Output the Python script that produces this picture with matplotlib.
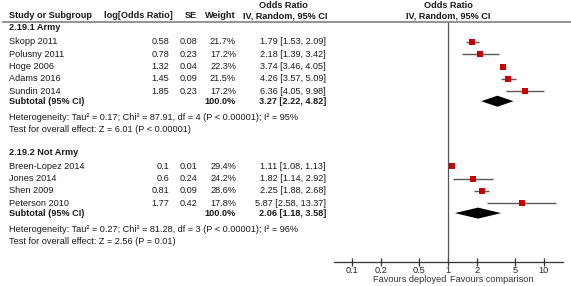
"""
Forest plot: odds ratios by army / not army subgroups.
"""

import matplotlib
matplotlib.use("Agg")
import matplotlib.pyplot as plt
import numpy as np

plt.rcParams["font.family"] = ["Liberation Sans", "DejaVu Sans"]

# data
army_names = ["Skopp 2011", "Polusny 2011", "Hoge 2006", "Adams 2016", "Sundin 2014"]
army_log_or = [0.58, 0.78, 1.32, 1.45, 1.85]
army_se = [0.08, 0.23, 0.04, 0.09, 0.23]
army_weight = [21.7, 17.2, 22.3, 21.5, 17.2]
army_or = [1.79, 2.18, 3.74, 4.26, 6.36]
army_lo = [1.53, 1.39, 3.46, 3.57, 4.05]
army_hi = [2.09, 3.42, 4.05, 5.09, 9.98]
army_total = [3.27, 2.22, 4.82]
army_het = "Heterogeneity: Tau² = 0.17; Chi² = 87.91, df = 4 (P < 0.00001); I² = 95%"
army_test = "Test for overall effect: Z = 6.01 (P < 0.00001)"

other_names = ["Breen-Lopez 2014", "Jones 2014", "Shen 2009", "Peterson 2010"]
other_log_or = [0.1, 0.6, 0.81, 1.77]
other_se = [0.01, 0.24, 0.09, 0.42]
other_weight = [29.4, 24.2, 28.6, 17.8]
other_or = [1.11, 1.82, 2.25, 5.87]
other_lo = [1.08, 1.14, 1.88, 2.58]
other_hi = [1.13, 2.92, 2.68, 13.37]
other_total = [2.06, 1.18, 3.58]
other_het = "Heterogeneity: Tau² = 0.27; Chi² = 81.28, df = 3 (P < 0.00001); I² = 96%"
other_test = "Test for overall effect: Z = 2.56 (P = 0.01)"

ticks = [0.1, 0.2, 0.5, 1, 2, 5, 10]

groups = [
    ("2.19.1 Army", army_names, army_log_or, army_se, army_weight, army_or, army_lo, army_hi,
     army_total, army_het, army_test),
    ("2.19.2 Not Army", other_names, other_log_or, other_se, other_weight, other_or, other_lo,
     other_hi, other_total, other_het, other_test),
]

W, H = 571, 286
fig = plt.figure(figsize=(W / 100, H / 100), dpi=100)
tax = fig.add_axes([0, 0, 1, 1])
tax.set_xlim(0, W)
tax.set_ylim(H, 0)
tax.axis("off")

axis_y = 262
fax = fig.add_axes([334 / W, (H - axis_y) / H, 229 / W, axis_y / H])
fax.set_xscale("log")
fax.set_xlim(0.065, 15.8)
fax.set_ylim(axis_y, 0)
fax.patch.set_alpha(0)
for s in ["top", "left", "right"]:
    fax.spines[s].set_visible(False)
fax.spines["bottom"].set_color("#333333")
fax.spines["bottom"].set_linewidth(0.9)
fax.set_yticks([])
fax.set_xticks(ticks)
fax.set_xticklabels([f"{t:g}" for t in ticks])
fax.xaxis.set_minor_locator(matplotlib.ticker.NullLocator())
fax.tick_params(axis="x", direction="inout", length=6, width=0.9, color="#333333",
                labelsize=6.6, pad=0, labelcolor="#222222")

fs = 6.6
tc = "#1a1a1a"
hdr_y = 22

# header
tax.text(9, 16, "Study or Subgroup", fontsize=fs, weight="bold", va="center", color=tc)
tax.text(104, 16, "log[Odds Ratio]", fontsize=fs, weight="bold", va="center", color=tc)
tax.text(197, 16, "SE", fontsize=fs, weight="bold", va="center", ha="right", color=tc)
tax.text(236, 16, "Weight", fontsize=fs, weight="bold", va="center", ha="right", color=tc)
tax.text(283, 5, "Odds Ratio", fontsize=fs, weight="bold", va="center", ha="center", color=tc)
tax.text(285, 16, "IV, Random, 95% CI", fontsize=fs, weight="bold", va="center", ha="center", color=tc)
tax.text(448, 5, "Odds Ratio", fontsize=fs, weight="bold", va="center", ha="center", color=tc)
tax.text(448, 16, "IV, Random, 95% CI", fontsize=fs, weight="bold", va="center", ha="center", color=tc)
tax.plot([3, W], [hdr_y, hdr_y], color="#808080", lw=1.2)

fax.vlines(1, hdr_y, axis_y, color="#555555", lw=0.9)

y = 28
for (title, names, lor, se, wt, est, lo, hi, tot, het, test) in groups:
    tax.text(9, y, title, fontsize=fs, weight="bold", va="center", color=tc)
    y += 14
    for i in range(len(names)):
        tax.text(9, y, names[i], fontsize=fs, va="center", color=tc)
        tax.text(169, y, f"{lor[i]:g}", fontsize=fs, va="center", ha="right", color=tc)
        tax.text(197, y, f"{se[i]:.2f}", fontsize=fs, va="center", ha="right", color=tc)
        tax.text(236, y, f"{wt[i]:.1f}%", fontsize=fs, va="center", ha="right", color=tc)
        tax.text(326, y, f"{est[i]:.2f} [{lo[i]:.2f}, {hi[i]:.2f}]", fontsize=fs,
                 va="center", ha="right", color=tc)
        fax.hlines(y, lo[i], hi[i], color="#5a5a5a", lw=1.0)
        # square side grows with sqrt(weight), like RevMan
        fax.plot(est[i], y, marker="s", color="#c80000", ms=np.sqrt(wt[i]) * 0.88,
                 mew=0, snap=False)
        y += 12.3
    y -= 2.3
    tax.text(9, y, "Subtotal (95% CI)", fontsize=fs, weight="bold", va="center", color=tc)
    tax.text(236, y, "100.0%", fontsize=fs, weight="bold", va="center", ha="right", color=tc)
    tax.text(326, y, f"{tot[0]:.2f} [{tot[1]:.2f}, {tot[2]:.2f}]", fontsize=fs,
             weight="bold", va="center", ha="right", color=tc)
    fax.fill([tot[1], tot[0], tot[2], tot[0]], [y, y - 5.5, y, y + 5.5], color="black", lw=0)
    y += 16
    tax.text(9, y, het, fontsize=fs, va="center", color=tc)
    y += 12
    tax.text(9, y, test, fontsize=fs, va="center", color=tc)
    y += 23

fax.text(0.955, 280, "Favours deployed", fontsize=fs, va="center", ha="right", color="#333333",
         clip_on=False)
fax.text(1.04, 280, "Favours comparison", fontsize=fs, va="center", ha="left", color="#333333",
         clip_on=False)

fig.savefig("out.png", dpi=100)
